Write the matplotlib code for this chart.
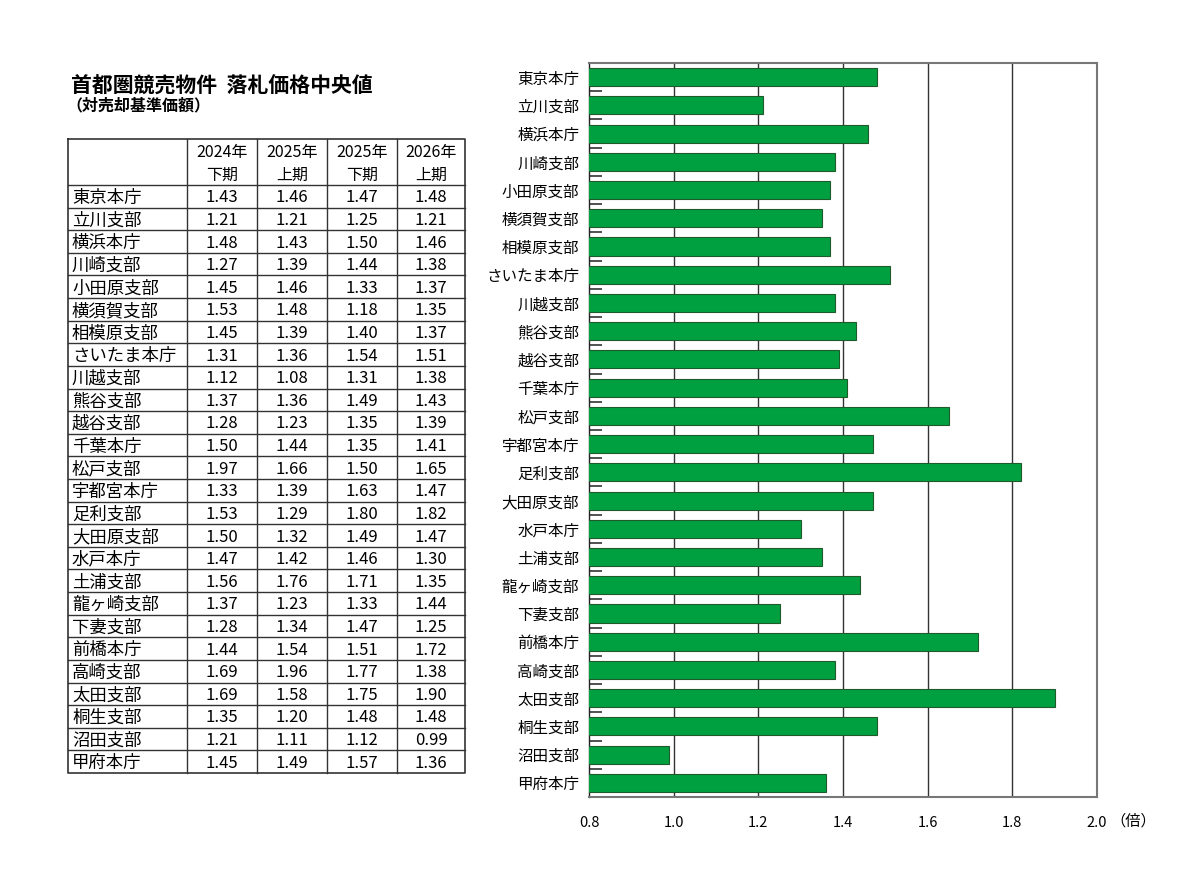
import matplotlib
matplotlib.use("Agg")
import matplotlib.pyplot as plt

plt.rcParams['font.family'] = ['Noto Sans CJK JP', 'DejaVu Sans']

# data
offices = ["東京本庁", "立川支部", "横浜本庁", "川崎支部", "小田原支部", "横須賀支部",
           "相模原支部", "さいたま本庁", "川越支部", "熊谷支部", "越谷支部", "千葉本庁",
           "松戸支部", "宇都宮本庁", "足利支部", "大田原支部", "水戸本庁", "土浦支部",
           "龍ヶ崎支部", "下妻支部", "前橋本庁", "高崎支部", "太田支部", "桐生支部",
           "沼田支部", "甲府本庁"]
periods = [("2024年", "下期"), ("2025年", "上期"), ("2025年", "下期"), ("2026年", "上期")]
h2024_2 = [1.43, 1.21, 1.48, 1.27, 1.45, 1.53, 1.45, 1.31, 1.12, 1.37, 1.28, 1.50, 1.97,
           1.33, 1.53, 1.50, 1.47, 1.56, 1.37, 1.28, 1.44, 1.69, 1.69, 1.35, 1.21, 1.45]
h2025_1 = [1.46, 1.21, 1.43, 1.39, 1.46, 1.48, 1.39, 1.36, 1.08, 1.36, 1.23, 1.44, 1.66,
           1.39, 1.29, 1.32, 1.42, 1.76, 1.23, 1.34, 1.54, 1.96, 1.58, 1.20, 1.11, 1.49]
h2025_2 = [1.47, 1.25, 1.50, 1.44, 1.33, 1.18, 1.40, 1.54, 1.31, 1.49, 1.35, 1.35, 1.50,
           1.63, 1.80, 1.49, 1.46, 1.71, 1.33, 1.47, 1.51, 1.77, 1.75, 1.48, 1.12, 1.57]
h2026_1 = [1.48, 1.21, 1.46, 1.38, 1.37, 1.35, 1.37, 1.51, 1.38, 1.43, 1.39, 1.41, 1.65,
           1.47, 1.82, 1.47, 1.30, 1.35, 1.44, 1.25, 1.72, 1.38, 1.90, 1.48, 0.99, 1.36]
xticks = [0.8, 1.0, 1.2, 1.4, 1.6, 1.8, 2.0]

W, H = 1191, 881
fig = plt.figure(figsize=(W / 100, H / 100), dpi=100)

# page layer in pixel units for the title and the table
page = fig.add_axes([0, 0, 1, 1])
page.set_xlim(0, W)
page.set_ylim(H, 0)
page.axis('off')

page.text(71, 86, "首都圏競売物件  落札価格中央値", fontsize=15, fontweight='bold',
          va='center', ha='left')
page.text(66, 105, "（対売却基準価額）", fontsize=11.5, fontweight='bold', va='center', ha='left')

# table
col_x = [68, 187, 257, 327, 397, 465]
top, head_bot, bottom = 139, 185, 773
row_h = (bottom - head_bot) / len(offices)
lc = '#333333'
page.plot([col_x[0], col_x[-1], col_x[-1], col_x[0], col_x[0]],
          [top, top, bottom, bottom, top], color=lc, lw=1.2)
for cx in col_x[1:-1]:
    page.plot([cx, cx], [top, bottom], color=lc, lw=1)
for i in range(len(offices)):
    yy = head_bot + i * row_h
    page.plot([col_x[0], col_x[-1]], [yy, yy], color=lc, lw=1)

for j, (yr, half) in enumerate(periods):
    cx = (col_x[j + 1] + col_x[j + 2]) / 2
    page.text(cx, top + 14, yr, fontsize=11.5, ha='center', va='center')
    page.text(cx, top + 36, half, fontsize=11.5, ha='center', va='center')

cols = [h2024_2, h2025_1, h2025_2, h2026_1]
for i, name in enumerate(offices):
    yy = head_bot + (i + 0.5) * row_h + 1.5
    page.text(col_x[0] + 4, yy, name, fontsize=12.5, ha='left', va='center')
    for j, vals in enumerate(cols):
        cx = (col_x[j + 1] + col_x[j + 2]) / 2
        page.text(cx, yy, f"{vals[i]:.2f}", fontsize=12, ha='center', va='center')

# bar chart
ax = fig.add_axes([589 / W, 1 - 797 / H, (1097 - 589) / W, (797 - 63) / H])
ypos = list(range(len(offices)))
ax.barh(ypos, h2026_1, left=0, height=0.64, color='#00a040', edgecolor='#1f5a2a', lw=0.8,
        zorder=3)
ax.set_xlim(0.8, 2.0)
ax.set_ylim(len(offices) - 0.5, -0.5)
ax.set_xticks(xticks)
ax.set_xticklabels([f"{t:.1f}" for t in xticks], fontsize=10.5)
ax.tick_params(axis='x', length=0, pad=14)
ax.set_yticks(ypos)
ax.set_yticklabels(offices, fontsize=11.2)
ax.tick_params(axis='y', length=0, pad=7)
# small inward marks between categories
ax.set_yticks([k + 0.5 for k in ypos[:-1]], minor=True)
ax.tick_params(axis='y', which='minor', direction='in', length=9, width=1.2, color='#333333')
for t in xticks[1:-1]:
    ax.axvline(t, color='#333333', lw=1, zorder=1)
for s in ax.spines.values():
    s.set_color('#777777')
    s.set_linewidth(1.5)
ax.spines['left'].set_color('#222222')
ax.spines['left'].set_linewidth(1)
fig.text(1110 / W, 1 - 821 / H, "（倍）", fontsize=11, ha='left', va='center')

fig.savefig('out.png', dpi=100)
